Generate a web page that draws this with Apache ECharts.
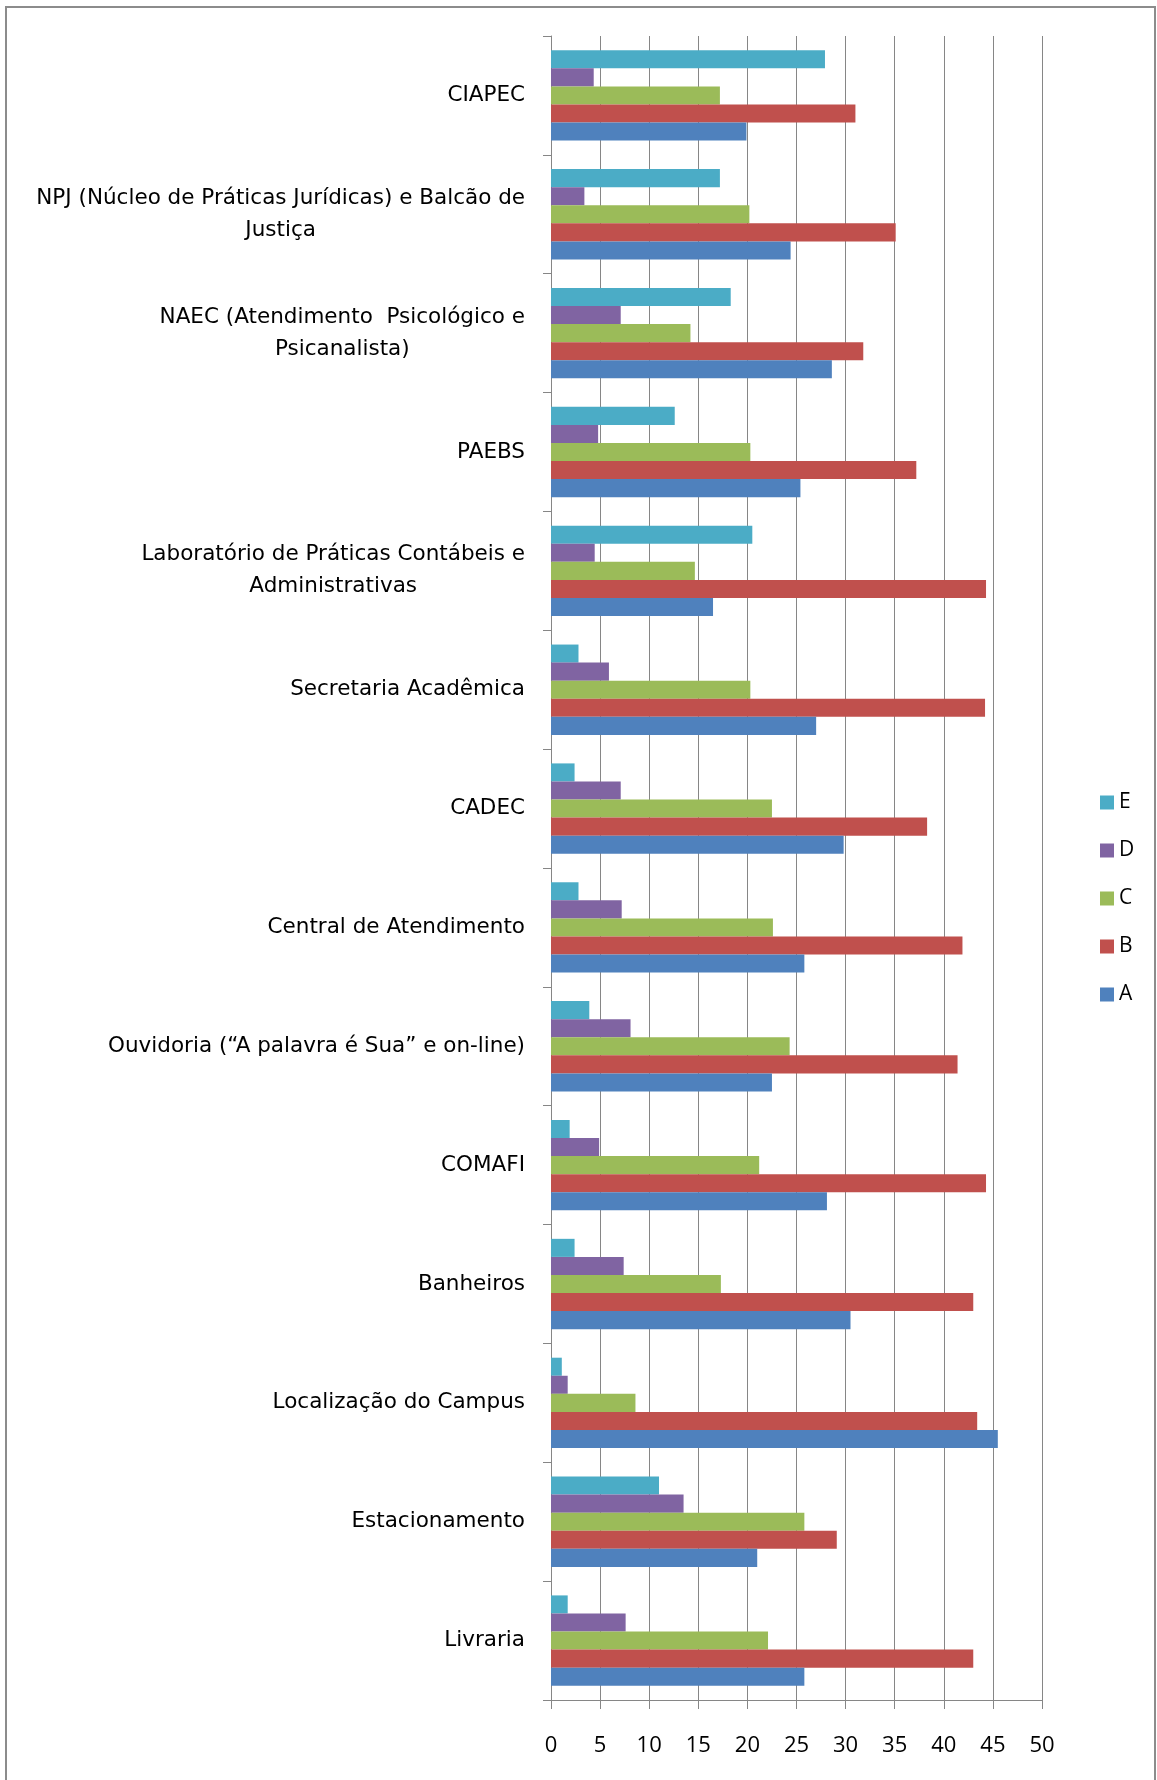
<!DOCTYPE html>
<html>
<head>
<meta charset="utf-8">
<script src="https://cdn.jsdelivr.net/npm/echarts@6/dist/echarts.min.js"></script>
<style>
html,body{margin:0;padding:0;background:#fff;}
#chart{width:1157px;height:1780px;}
</style>
</head>
<body>
<div id="chart"></div>
<script>
// Categories, top to bottom as shown
const categories = [
  "CIAPEC",
  "NPJ (Núcleo de Práticas Jurídicas) e Balcão de\nJustiça",
  "NAEC (Atendimento  Psicológico e\nPsicanalista)",
  "PAEBS",
  "Laboratório de Práticas Contábeis e\nAdministrativas",
  "Secretaria Acadêmica",
  "CADEC",
  "Central de Atendimento",
  "Ouvidoria (“A palavra é Sua” e on-line)",
  "COMAFI",
  "Banheiros",
  "Localização do Campus",
  "Estacionamento",
  "Livraria"
];
const seriesA = [19.9, 24.4, 28.6, 25.4, 16.5, 27.0, 29.8, 25.8, 22.5, 28.1, 30.5, 45.5, 21.0, 25.8];
const seriesB = [31.0, 35.1, 31.8, 37.2, 44.3, 44.2, 38.3, 41.9, 41.4, 44.3, 43.0, 43.4, 29.1, 43.0];
const seriesC = [17.2, 20.2, 14.2, 20.3, 14.65, 20.3, 22.5, 22.6, 24.3, 21.2, 17.3, 8.6, 25.8, 22.1];
const seriesD = [4.35, 3.4, 7.1, 4.8, 4.45, 5.9, 7.1, 7.2, 8.1, 4.9, 7.4, 1.7, 13.5, 7.6];
const seriesE = [27.9, 17.2, 18.3, 12.6, 20.5, 2.8, 2.4, 2.8, 3.9, 1.9, 2.4, 1.1, 11.0, 1.7];
const xTicks = [0, 5, 10, 15, 20, 25, 30, 35, 40, 45, 50];
const legendOrder = ["E", "D", "C", "B", "A"];

const FONT = "'Open Sans', 'Liberation Sans', sans-serif";
const LABEL_FONT = "'DejaVu Sans', 'Open Sans', sans-serif";
const colors = {A: "#4F81BD", B: "#C0504D", C: "#9BBB59", D: "#8064A2", E: "#4BACC6"};
const seriesData = {A: seriesA, B: seriesB, C: seriesC, D: seriesD, E: seriesE};
// drawn top-to-bottom inside each group: E, D, C, B, A
const seriesOrder = ["E", "D", "C", "B", "A"];

const chart = echarts.init(document.getElementById('chart'), null, {renderer: 'canvas'});
chart.setOption({
  animation: false,
  backgroundColor: '#ffffff',
  graphic: [{
    type: 'rect', silent: true, z: -1,
    shape: {x: 6, y: 7, width: 1149, height: 1800},
    style: {fill: 'none', stroke: '#8c8c8c', lineWidth: 2}
  }],
  grid: {left: 551, right: 115, top: 36, bottom: 80, containLabel: false},
  legend: {
    orient: 'vertical',
    left: 1095, top: 787,
    itemWidth: 14, itemHeight: 14, itemGap: 27,
    icon: 'rect',
    data: legendOrder,
    textStyle: {fontFamily: FONT, fontSize: 21, color: '#000', lineHeight: 14}
  },
  xAxis: {
    type: 'value', min: xTicks[0], max: xTicks[xTicks.length - 1], interval: 5,
    axisLine: {show: true, lineStyle: {color: '#868686', width: 1}},
    axisTick: {show: true, length: 9, lineStyle: {color: '#868686'}},
    axisLabel: {fontFamily: FONT, fontSize: 22, color: '#000', margin: 35},
    splitLine: {show: true, lineStyle: {color: '#868686', width: 1}}
  },
  yAxis: {
    type: 'category', data: categories, inverse: true,
    axisLine: {show: true, lineStyle: {color: '#868686', width: 1}},
    axisTick: {show: true, length: 8, lineStyle: {color: '#868686'}},
    axisLabel: {
      margin: 26, align: 'right',
      formatter: v => v.split('\n').map(l => '{c|' + l + '}').join('\n'),
      rich: {c: {fontFamily: LABEL_FONT, fontSize: 21.5, color: '#000', lineHeight: 32, align: 'center'}}
    },
    splitLine: {show: false}
  },
  series: seriesOrder.map(k => ({
    name: k, type: 'bar', data: seriesData[k],
    barGap: '0%', barCategoryGap: '24%',
    itemStyle: {color: colors[k]}
  }))
});
</script>
</body>
</html>
